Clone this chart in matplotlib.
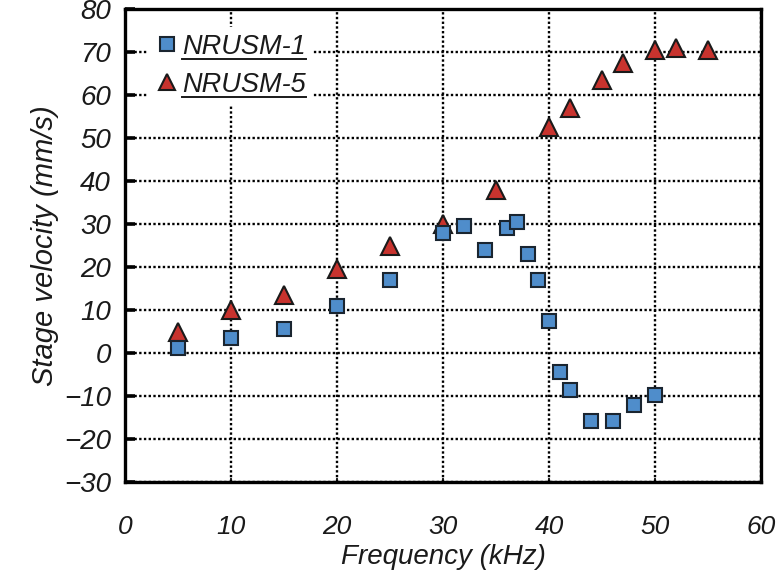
import matplotlib
matplotlib.use("Agg")
import matplotlib.pyplot as plt
from matplotlib.lines import Line2D

# Stage velocity vs drive frequency for two ultrasonic motor samples
freq_1 = [5, 10, 15, 20, 25, 30, 32, 34, 36, 37, 38, 39, 40, 41, 42, 44, 46, 48, 50]
vel_1 = [1.2, 3.5, 5.5, 11, 17, 28, 29.5, 24, 29, 30.5, 23, 17, 7.5, -4.5, -8.6, -15.8, -15.8, -12, -9.8]

freq_5 = [5, 10, 15, 20, 25, 30, 35, 40, 42, 45, 47, 50, 52, 55]
vel_5 = [5, 10, 13.5, 19.5, 25, 30, 38, 52.5, 57, 63.5, 67.5, 70.5, 71, 70.5]

label_1 = "NRUSM-1"
label_5 = "NRUSM-5"

x_ticks = [0, 10, 20, 30, 40, 50, 60]
y_ticks = [-30, -20, -10, 0, 10, 20, 30, 40, 50, 60, 70, 80]

font = "Liberation Sans"
ink = "#1a1a1a"

fig = plt.figure(figsize=(7.83, 5.77), dpi=100)
ax = fig.add_axes([0.1596, 0.1646, 0.8124, 0.8198])

ax.set_xlim(0, 60)
ax.set_ylim(-30, 80)

h5, = ax.plot(freq_5, vel_5, linestyle="none", marker="^", markersize=13,
              markerfacecolor="#c8332e", markeredgecolor="#1a1a1a",
              markeredgewidth=1.5, zorder=3)
h1, = ax.plot(freq_1, vel_1, linestyle="none", marker="s", markersize=10.5,
              markerfacecolor="#4f8dcb", markeredgecolor="#1a2530",
              markeredgewidth=1.5, zorder=4)

ax.set_xticks(x_ticks)
ax.set_yticks(y_ticks)
ax.grid(True, color="black", linestyle=(0, (1, 1)), linewidth=1.7)
ax.set_axisbelow(True)

for s in ax.spines.values():
    s.set_linewidth(2.4)

ax.tick_params(axis="y", direction="in", length=7, width=2.6, pad=10,
               labelsize=20)
ax.tick_params(axis="x", direction="in", length=3, width=1.2, pad=24,
               labelsize=19)
for lab in ax.get_xticklabels() + ax.get_yticklabels():
    lab.set_fontfamily(font)
    lab.set_fontstyle("italic")
    lab.set_color(ink)

ax.set_xlabel("Frequency (kHz)", fontsize=20, fontstyle="italic",
              fontfamily=font, color=ink, labelpad=3)
ax.set_ylabel("Stage velocity (mm/s)", fontsize=21, fontstyle="italic",
              fontfamily=font, color=ink, labelpad=4)

leg = ax.legend([h1, h5], [label_1, label_5], loc="upper left",
                bbox_to_anchor=(0.036, 0.962), frameon=True,
                facecolor="white", edgecolor="none", framealpha=1,
                borderpad=0.25, handlelength=0.9, handletextpad=0.12,
                labelspacing=0.45, borderaxespad=0, markerscale=0.9,
                prop={"family": font, "style": "italic", "size": 19.5})
for t in leg.get_texts():
    t.set_color(ink)

# underline the legend entries
fig.canvas.draw()
renderer = fig.canvas.get_renderer()
W, H = fig.bbox.width, fig.bbox.height
for t in leg.get_texts():
    bb = t.get_window_extent(renderer)
    y = bb.y0 + 1
    fig.add_artist(Line2D([bb.x0 / W, bb.x1 / W], [y / H, y / H],
                          color=ink, linewidth=1.4,
                          transform=fig.transFigure))

fig.savefig("out.png", dpi=100)
